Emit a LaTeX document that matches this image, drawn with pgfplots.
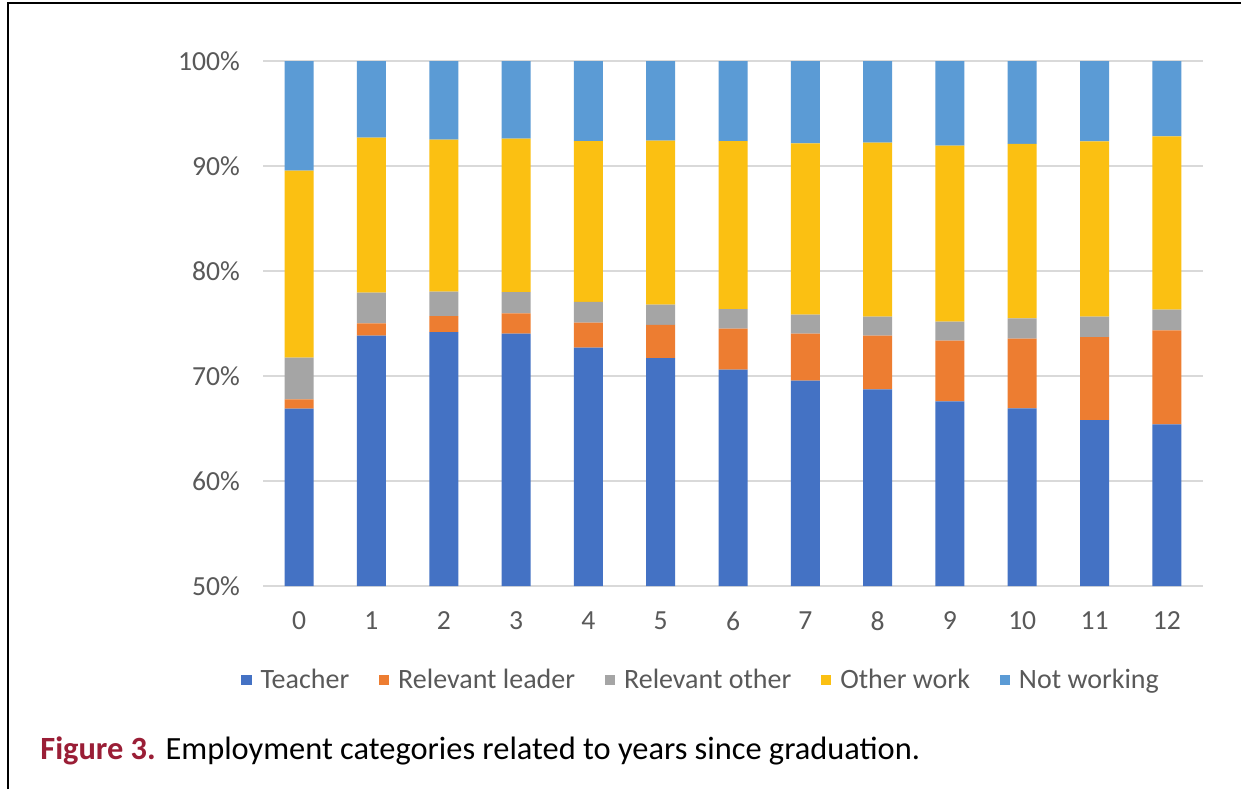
\documentclass[border=0pt]{standalone}
\usepackage{fontspec}
\setmainfont{Carlito}
\usepackage{pgfplots}
\pgfplotsset{compat=1.18}
\definecolor{cTeach}{HTML}{4472C4}
\definecolor{cLead}{HTML}{ED7D31}
\definecolor{cRelO}{HTML}{A5A5A5}
\definecolor{cOther}{HTML}{FBC012}
\definecolor{cNot}{HTML}{5B9BD5}
\definecolor{gridgray}{HTML}{D9D9D9}
\definecolor{labelgray}{HTML}{595959}
\definecolor{capred}{HTML}{9A1E36}
\pgfplotsset{sqlegend/.style={legend image code/.code={\fill[##1] (0pt,-2.6pt) rectangle (5.2pt,2.6pt);}}}
\begin{document}
\begin{tikzpicture}
\useasboundingbox (0,0) rectangle (620.5pt,394.5pt);
\fill[white] (0,0) rectangle (620.5pt,394.5pt);
\draw[line width=1pt] (4pt,0pt) -- (4pt,393pt) -- (620.5pt,393pt);
\begin{axis}[
  at={(131.5pt,101.5pt)}, anchor=south west,
  width=470pt, height=262.5pt, scale only axis,
  ybar stacked, bar width=14.5pt,
  ymin=50, ymax=100, xmin=-0.5, xmax=12.5,
  xtick={0,...,12}, ytick={50,60,...,100},
  yticklabel={\pgfmathprintnumber{\tick}\%},
  ymajorgrids, grid style={draw=gridgray, line width=0.8pt},
  axis line style={draw=none},
  major tick length=0pt,
  /pgf/number format/assume math mode=true,
  tick label style={font=\fontsize{13.8}{16}\selectfont, text=labelgray},
  yticklabel style={xshift=-8pt},
  xticklabel style={yshift=-9.5pt},
  legend style={at={(0.467,-0.179)}, anchor=center, draw=none, fill=none,
    legend columns=-1, font=\fontsize{14}{16}\selectfont, text=labelgray,
    /tikz/every odd column/.append style={column sep=2.5pt},
    /tikz/every even column/.append style={column sep=12.8pt}},
]
\addplot[fill=cTeach, draw=none, sqlegend] coordinates {(0,66.9) (1,73.84) (2,74.19) (3,74.03) (4,72.70) (5,71.71) (6,70.60) (7,69.56) (8,68.73) (9,67.59) (10,66.92) (11,65.81) (12,65.40)};
\addplot[fill=cLead, draw=none, sqlegend] coordinates {(0,0.88) (1,1.18) (2,1.52) (3,1.94) (4,2.38) (5,3.15) (6,3.91) (7,4.47) (8,5.11) (9,5.77) (10,6.64) (11,7.90) (12,8.95)};
\addplot[fill=cRelO, draw=none, sqlegend] coordinates {(0,3.97) (1,2.91) (2,2.32) (3,2.03) (4,1.97) (5,1.94) (6,1.87) (7,1.81) (8,1.81) (9,1.81) (10,1.93) (11,1.94) (12,1.97)};
\addplot[fill=cOther, draw=none, sqlegend] coordinates {(0,17.80) (1,14.77) (2,14.48) (3,14.60) (4,15.33) (5,15.61) (6,16.00) (7,16.32) (8,16.57) (9,16.77) (10,16.61) (11,16.70) (12,16.51)};
\addplot[fill=cNot, draw=none, sqlegend] coordinates {(0,10.45) (1,7.30) (2,7.49) (3,7.40) (4,7.62) (5,7.59) (6,7.62) (7,7.84) (8,7.78) (9,8.06) (10,7.90) (11,7.65) (12,7.17)};
\legend{Teacher, Relevant leader, Relevant other, Other work, Not working}
\end{axis}
\node[anchor=base west, inner sep=0pt] at (20pt,15pt) {\fontsize{16.2}{19}\selectfont\textcolor{capred}{\bfseries Figure 3.} Employment categories related to years since graduation.};
\end{tikzpicture}
\end{document}
